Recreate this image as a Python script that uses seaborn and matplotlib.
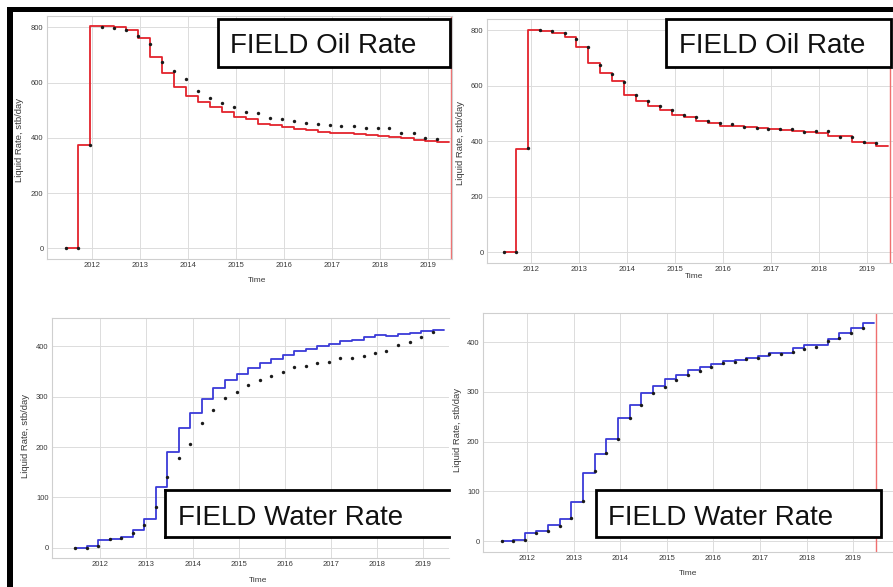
import numpy as np
import pandas as pd
import matplotlib
matplotlib.use("Agg")
import matplotlib.pyplot as plt
from matplotlib.patches import Rectangle
from matplotlib.lines import Line2D
import seaborn as sns

# ---------------- data ----------------
dates = pd.date_range("2011-06-15", periods=33, freq=pd.DateOffset(months=3))

oil_sim_left = [0, 0, 375, 805, 805, 802, 790, 760, 694, 633, 585, 551, 531,
                510, 494, 476, 468, 450, 447, 440, 433, 430, 420, 418, 416,
                412, 410, 406, 404, 401, 393, 390, 385]
oil_sim_right = [0, 0, 372, 802, 799, 790, 775, 740, 682, 646, 616, 568, 547,
                 529, 512, 496, 488, 472, 466, 457, 454, 452, 448, 446, 440,
                 436, 435, 430, 420, 418, 398, 394, 384]
oil_hist = [0, 0, 375, 802, 799, 790, 768, 739, 675, 642, 614, 568, 545, 527,
            512, 495, 489, 473, 468, 461, 453, 450, 445, 444, 443, 435, 437,
            437, 417, 416, 398, 395]

water_sim_left = [0, 0, 4, 16, 18, 22, 35, 58, 120, 190, 237, 268, 295, 317,
                  333, 345, 357, 367, 375, 383, 390, 395, 400, 405, 410, 412,
                  418, 422, 420, 425, 427, 430, 432]
water_sim_right = [0, 0, 3, 16, 21, 32, 45, 79, 136, 175, 205, 248, 274, 298,
                   311, 325, 334, 343, 350, 356, 361, 364, 368, 372, 378, 378,
                   388, 395, 395, 406, 418, 428, 438]
water_hist = [0, 0, 3, 17, 20, 30, 46, 81, 140, 178, 206, 248, 273, 297, 309,
              324, 334, 341, 349, 358, 360, 367, 369, 377, 377, 380, 387, 390,
              403, 408, 418, 428]

year_ticks = [2012, 2013, 2014, 2015, 2016, 2017, 2018, 2019]
oil_ticks = [0, 200, 400, 600, 800]
water_ticks = [0, 100, 200, 300, 400]
marker_date = pd.Timestamp("2019-07-01")

oil_title = "FIELD Oil Rate"
water_title = "FIELD Water Rate"
ylabel_text = "Liquid Rate, stb/day"
xlabel_text = "Time"


def dec_year(d):
    d = pd.DatetimeIndex(d)
    days = np.where(d.is_leap_year, 366.0, 365.0)
    return np.asarray(d.year + (d.dayofyear - 1) / days, dtype=float)


t_all = dec_year(dates)
t_hist = t_all[:len(oil_hist)]
t_marker = dec_year([marker_date])[0]

# ---------------- style ----------------
sns.set_theme(style="whitegrid")
plt.rcParams["font.family"] = ["Liberation Sans", "DejaVu Sans"]

W, H = 893, 587
fig = plt.figure(figsize=(W / 100, H / 100), dpi=100)
fig.patch.set_facecolor("white")


def axes_px(l, t, r, b):
    return fig.add_axes([l / W, 1 - b / H, (r - l) / W, (b - t) / H])


RED = "#e3232c"
BLUE = "#3a3ad8"

panels = [
    dict(rect=(47, 16, 452, 259), xlim=(2011.054, 2019.507), ylim=(-38.7, 840.9),
         yticks=oil_ticks, sim=oil_sim_left, hist=oil_hist, color=RED,
         ylab=(-0.057, 0.49), xlab=(0.518, -0.076)),
    dict(rect=(487, 19, 895, 263), xlim=(2011.09, 2019.59), ylim=(-38.2, 841),
         yticks=oil_ticks, sim=oil_sim_right, hist=oil_hist, color=RED,
         ylab=(-0.055, 0.49), xlab=(0.507, -0.042)),
    dict(rect=(52, 318, 449, 558), xlim=(2010.954, 2019.556), ylim=(-20, 456),
         yticks=water_ticks, sim=water_sim_left, hist=water_hist, color=BLUE,
         ylab=(-0.055, 0.507), xlab=(0.519, -0.08), no_marker=True,
         cropped=True),
    dict(rect=(483, 313, 895, 552), xlim=(2011.055, 2019.896), ylim=(-22, 458.5),
         yticks=water_ticks, sim=water_sim_right, hist=water_hist, color=BLUE,
         ylab=(-0.051, 0.51), xlab=(0.497, -0.075)),
]

for p in panels:
    ax = axes_px(*p["rect"])
    ax.set_facecolor("white")
    df_sim = pd.DataFrame({"t": t_all, "v": p["sim"]})
    df_hist = pd.DataFrame({"t": t_hist, "v": p["hist"]})
    sns.lineplot(data=df_sim, x="t", y="v", ax=ax, color=p["color"],
                 drawstyle="steps-pre", estimator=None, linewidth=1.3, zorder=3)
    sns.scatterplot(data=df_hist, x="t", y="v", ax=ax, color="#1a1a1a", s=6,
                    linewidth=0, zorder=4)
    if not p.get("no_marker"):
        ax.axvline(t_marker, color="#ef6f6f", linewidth=1.0, zorder=2)
    ax.set_xlim(*p["xlim"])
    ax.set_ylim(*p["ylim"])
    ax.set_xticks(year_ticks)
    ax.set_xticklabels([str(y) for y in year_ticks])
    ax.set_yticks(p["yticks"])
    ax.tick_params(axis="both", labelsize=5.5, labelcolor="#3a3a3a",
                   length=0, pad=2.5)
    ax.grid(True, color="#dcdcdc", linewidth=0.7)
    for s in ax.spines.values():
        s.set_color("#cfcfcf")
        s.set_linewidth(0.8)
    if p.get("cropped"):
        ax.spines["right"].set_visible(False)
    ax.set_xlabel(xlabel_text, fontsize=6, color="#3a3a3a")
    ax.set_ylabel(ylabel_text, fontsize=6.8, color="#3a3a3a")
    ax.xaxis.set_label_coords(*p["xlab"])
    ax.yaxis.set_label_coords(*p["ylab"])


def fx(x):
    return x / W


def fy(y):
    return 1 - y / H


def closed_box(l, t, r, b):
    fig.add_artist(Rectangle((fx(l), fy(b)), fx(r) - fx(l), fy(t) - fy(b),
                             transform=fig.transFigure, facecolor="white",
                             edgecolor="black", linewidth=2.0, zorder=5))


def open_box(l, t, r, b):
    fig.add_artist(Rectangle((fx(l), fy(b)), fx(r) - fx(l), fy(t) - fy(b),
                             transform=fig.transFigure, facecolor="white",
                             edgecolor="none", zorder=5))
    for xs, ys in [((l, r), (t, t)), ((l, l), (t, b)), ((l, r), (b, b))]:
        fig.add_artist(Line2D([fx(xs[0]), fx(xs[1])], [fy(ys[0]), fy(ys[1])],
                              transform=fig.transFigure, color="black",
                              linewidth=2.0, zorder=6, solid_capstyle="projecting"))


closed_box(218, 19.5, 449.5, 67)
closed_box(666, 19.5, 890.5, 67)
open_box(164.5, 489.5, 449, 537)
closed_box(595.5, 490, 880.5, 537)

title_kw = dict(fontsize=20, color="#111111", ha="left", va="baseline",
                family=["Liberation Sans", "DejaVu Sans"], zorder=7)
fig.text(fx(230), fy(53), oil_title, **title_kw)
fig.text(fx(679), fy(53), oil_title, **title_kw)
fig.text(fx(178.5), fy(525), water_title, **title_kw)
fig.text(fx(608.5), fy(525), water_title, **title_kw)

# black screenshot border (top and left)
fig.add_artist(Rectangle((fx(7), fy(12)), fx(893) - fx(7), fy(7) - fy(12),
                         transform=fig.transFigure, facecolor="black",
                         edgecolor="none", zorder=8))
fig.add_artist(Rectangle((fx(7), fy(587)), fx(13) - fx(7), fy(7) - fy(587),
                         transform=fig.transFigure, facecolor="black",
                         edgecolor="none", zorder=8))

fig.savefig("out.png", dpi=100, facecolor="white")
